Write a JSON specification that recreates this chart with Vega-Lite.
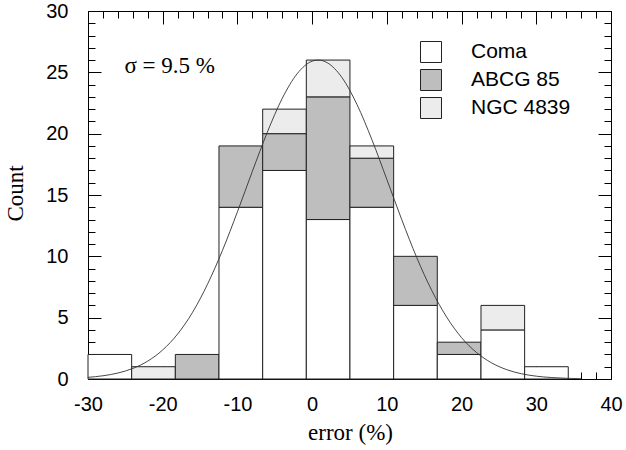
{
  "$schema": "https://vega.github.io/schema/vega-lite/v6.json",
  "width": 523,
  "height": 368,
  "autosize": "none",
  "padding": {"left": 88, "top": 11, "right": 15, "bottom": 71},
  "background": "white",
  "config": {
    "view": {"stroke": "black", "strokeWidth": 1},
    "axis": {
      "domain": false,
      "grid": false,
      "tickColor": "black",
      "tickWidth": 1,
      "labelFont": "Liberation Sans",
      "labelFontSize": 20,
      "labelColor": "black",
      "titleFont": "Liberation Serif",
      "titleFontSize": 23,
      "titleFontWeight": "normal",
      "titleColor": "black",
      "zindex": 1
    }
  },
  "resolve": {"axis": {"x": "independent", "y": "independent"}},
  "layer": [
    {
      "data": {"values": [
        {"start": -30, "end": -24.156, "group": "Coma", "ord": 1, "count": 2},
        {"start": -24.156, "end": -18.31, "group": "NGC 4839", "ord": 3, "count": 1},
        {"start": -18.31, "end": -12.47, "group": "ABCG 85", "ord": 2, "count": 2},
        {"start": -12.47, "end": -6.62, "group": "Coma", "ord": 1, "count": 14},
        {"start": -12.47, "end": -6.62, "group": "ABCG 85", "ord": 2, "count": 5},
        {"start": -6.62, "end": -0.78, "group": "Coma", "ord": 1, "count": 17},
        {"start": -6.62, "end": -0.78, "group": "ABCG 85", "ord": 2, "count": 3},
        {"start": -6.62, "end": -0.78, "group": "NGC 4839", "ord": 3, "count": 2},
        {"start": -0.78, "end": 5.06, "group": "Coma", "ord": 1, "count": 13},
        {"start": -0.78, "end": 5.06, "group": "ABCG 85", "ord": 2, "count": 10},
        {"start": -0.78, "end": 5.06, "group": "NGC 4839", "ord": 3, "count": 3},
        {"start": 5.06, "end": 10.91, "group": "Coma", "ord": 1, "count": 14},
        {"start": 5.06, "end": 10.91, "group": "ABCG 85", "ord": 2, "count": 4},
        {"start": 5.06, "end": 10.91, "group": "NGC 4839", "ord": 3, "count": 1},
        {"start": 10.91, "end": 16.75, "group": "Coma", "ord": 1, "count": 6},
        {"start": 10.91, "end": 16.75, "group": "ABCG 85", "ord": 2, "count": 4},
        {"start": 16.75, "end": 22.6, "group": "Coma", "ord": 1, "count": 2},
        {"start": 16.75, "end": 22.6, "group": "ABCG 85", "ord": 2, "count": 1},
        {"start": 22.6, "end": 28.44, "group": "Coma", "ord": 1, "count": 4},
        {"start": 22.6, "end": 28.44, "group": "NGC 4839", "ord": 3, "count": 2},
        {"start": 28.44, "end": 34.28, "group": "Coma", "ord": 1, "count": 1}
      ]},
      "transform": [
        {"stack": "count", "groupby": ["start"], "sort": [{"field": "ord", "order": "ascending"}], "as": ["y0", "y1"]}
      ],
      "mark": {"type": "bar", "stroke": "#222222", "strokeWidth": 1},
      "encoding": {
        "x": {
          "field": "start", "type": "quantitative",
          "scale": {"domain": [-30, 40], "nice": false, "zero": false},
          "axis": {
            "orient": "bottom",
            "values": [-30, -20, -10, 0, 10, 20, 30, 40],
            "labelExpr": "'' + datum.value",
            "tickSize": -13,
            "labelPadding": 28,
            "labelFlush": false,
            "labelBaseline": "top",
            "title": "error (%)",
            "titleX": 262, "titleY": 53,
            "titleAlign": "center", "titleBaseline": "middle"
          }
        },
        "x2": {"field": "end"},
        "y": {
          "field": "y1", "type": "quantitative",
          "scale": {"domain": [0, 30], "nice": false},
          "axis": {
            "orient": "left",
            "values": [0, 5, 10, 15, 20, 25, 30],
            "labelExpr": "'' + datum.value",
            "tickSize": -13,
            "labelPadding": 33,
            "labelBaseline": "middle",
            "title": "Count",
            "titleX": -73, "titleY": 182,
            "titleAngle": -90,
            "titleAlign": "center", "titleBaseline": "middle"
          }
        },
        "y2": {"field": "y0"},
        "color": {
          "field": "group", "type": "nominal",
          "scale": {"domain": ["Coma", "ABCG 85", "NGC 4839"], "range": ["#ffffff", "#bebebe", "#ececec"]},
          "legend": {
            "orient": "none", "legendX": 332, "legendY": 30,
            "title": null,
            "padding": 0,
            "symbolType": "square",
            "symbolSize": 441,
            "symbolStrokeColor": "#222222",
            "symbolStrokeWidth": 1,
            "labelFont": "Liberation Sans",
            "labelFontSize": 21,
            "labelColor": "black",
            "labelOffset": 29,
            "rowPadding": 2
          }
        }
      }
    },
    {
      "data": {"values": [
        {"x": -30, "y": 0.136}, {"x": -28, "y": 0.263}, {"x": -26, "y": 0.486},
        {"x": -24, "y": 0.862}, {"x": -22, "y": 1.46}, {"x": -20, "y": 2.37},
        {"x": -18, "y": 3.67}, {"x": -16, "y": 5.44}, {"x": -14, "y": 7.73},
        {"x": -12, "y": 10.49}, {"x": -10, "y": 13.63}, {"x": -8, "y": 16.93},
        {"x": -6, "y": 20.12}, {"x": -4, "y": 22.88}, {"x": -2, "y": 24.89},
        {"x": 0, "y": 25.91}, {"x": 0.8, "y": 26.0}, {"x": 2, "y": 25.79},
        {"x": 4, "y": 24.57}, {"x": 6, "y": 22.38}, {"x": 8, "y": 19.51},
        {"x": 10, "y": 16.27}, {"x": 12, "y": 12.98}, {"x": 14, "y": 9.9},
        {"x": 16, "y": 7.23}, {"x": 18, "y": 5.05}, {"x": 20, "y": 3.37},
        {"x": 22, "y": 2.16}, {"x": 24, "y": 1.32}, {"x": 26, "y": 0.77},
        {"x": 28, "y": 0.43}, {"x": 30, "y": 0.23}, {"x": 32, "y": 0.12},
        {"x": 34, "y": 0.058}, {"x": 36, "y": 0.026}
      ]},
      "mark": {"type": "line", "stroke": "#333333", "strokeWidth": 0.9, "interpolate": "monotone"},
      "encoding": {
        "x": {
          "field": "x", "type": "quantitative",
          "axis": {
            "orient": "bottom",
            "values": [-28, -26, -24, -22, -18, -16, -14, -12, -8, -6, -4, -2, 2, 4, 6, 8, 12, 14, 16, 18, 22, 24, 26, 28, 32, 34, 36, 38],
            "tickSize": -7, "labels": false, "title": null
          }
        },
        "y": {
          "field": "y", "type": "quantitative",
          "axis": {
            "orient": "left",
            "values": [1, 2, 3, 4, 6, 7, 8, 9, 11, 12, 13, 14, 16, 17, 18, 19, 21, 22, 23, 24, 26, 27, 28, 29],
            "tickSize": -7, "labels": false, "title": null
          }
        }
      }
    },
    {
      "data": {"values": [{"x": -19.06, "y": 25.5, "label": "σ = 9.5 %"}]},
      "mark": {"type": "text", "font": "Liberation Serif", "fontSize": 23, "align": "center", "baseline": "middle", "color": "black"},
      "encoding": {
        "x": {
          "field": "x", "type": "quantitative",
          "axis": {
            "orient": "top",
            "values": [-30, -20, -10, 0, 10, 20, 30, 40],
            "tickSize": -13, "labels": false, "title": null
          }
        },
        "y": {
          "field": "y", "type": "quantitative",
          "axis": {
            "orient": "right",
            "values": [0, 5, 10, 15, 20, 25, 30],
            "tickSize": -13, "labels": false, "title": null
          }
        },
        "text": {"field": "label"}
      }
    },
    {
      "data": {"values": [{"x": 0, "y": 0}]},
      "mark": {"type": "point", "opacity": 0},
      "encoding": {
        "x": {
          "field": "x", "type": "quantitative",
          "axis": {
            "orient": "top",
            "values": [-28, -26, -24, -22, -18, -16, -14, -12, -8, -6, -4, -2, 2, 4, 6, 8, 12, 14, 16, 18, 22, 24, 26, 28, 32, 34, 36, 38],
            "tickSize": -7, "labels": false, "title": null
          }
        },
        "y": {
          "field": "y", "type": "quantitative",
          "axis": {
            "orient": "right",
            "values": [1, 2, 3, 4, 6, 7, 8, 9, 11, 12, 13, 14, 16, 17, 18, 19, 21, 22, 23, 24, 26, 27, 28, 29],
            "tickSize": -7, "labels": false, "title": null
          }
        }
      }
    }
  ]
}
